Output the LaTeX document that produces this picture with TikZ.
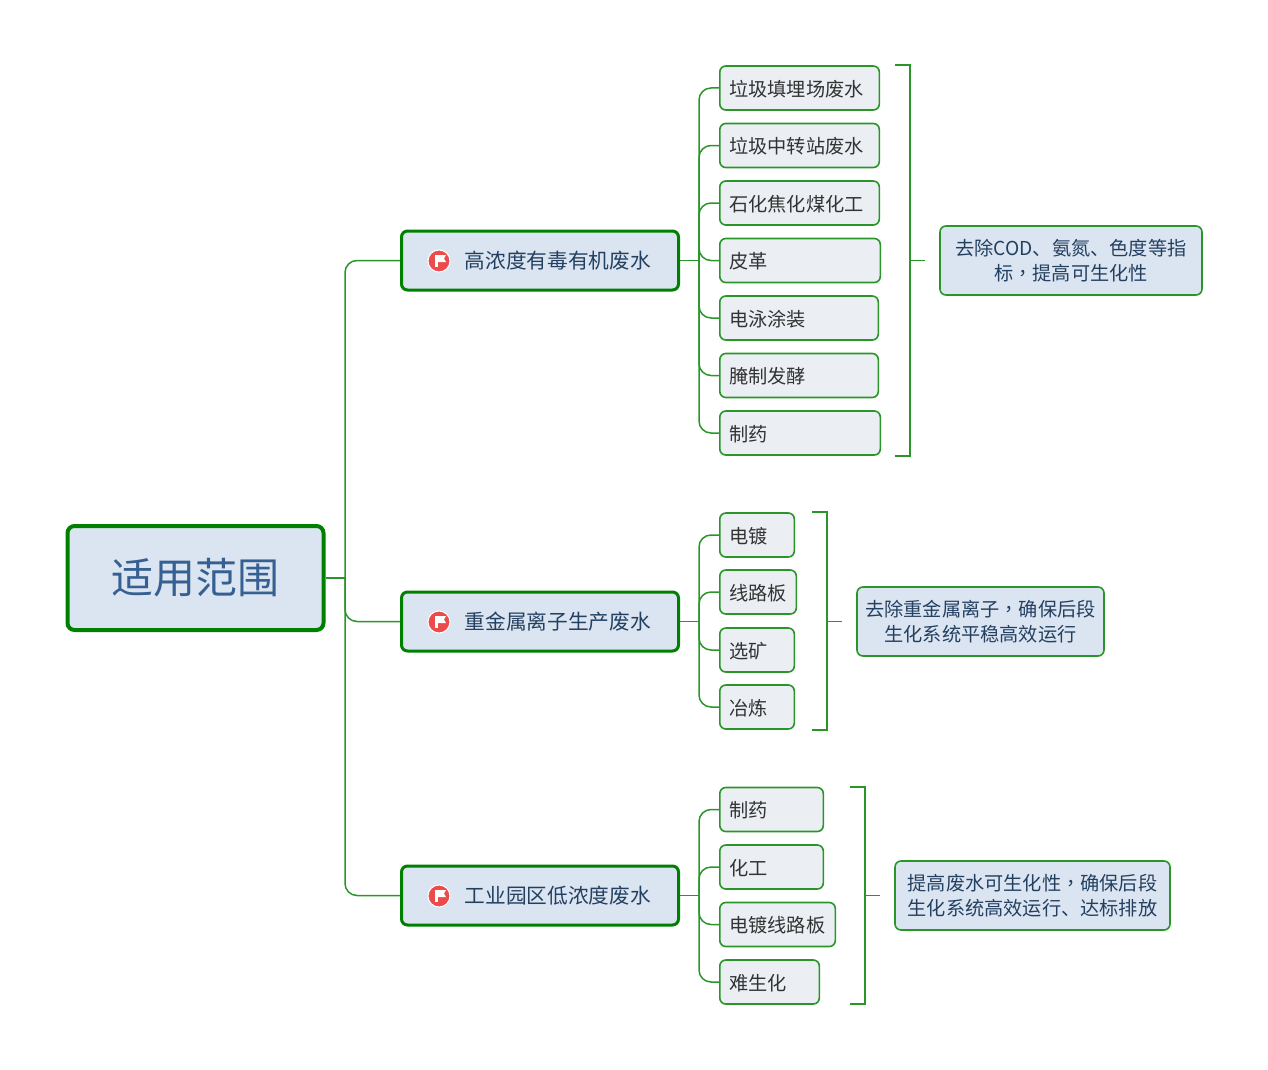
\documentclass[tikz,border=0pt]{standalone}
\usepackage{fontspec}
\setmainfont{Noto Sans CJK SC}
\newfontfamily\commafont{Noto Sans CJK TC}
\usepackage{xcolor}
\definecolor{linkgreen}{HTML}{2A962A}
\definecolor{mainfill}{HTML}{DBE5F1}
\definecolor{leaffill}{HTML}{EBEFF4}
\definecolor{roottext}{HTML}{376092}
\definecolor{maintext}{HTML}{244061}
\definecolor{leaftext}{HTML}{333333}
\definecolor{flagred}{HTML}{EC4B4B}
\newcommand{\midcomma}{{\commafont ，}}
\tikzset{
  link/.style={draw=linkgreen,line width=1.5pt},
  rootbox/.style={draw=green!50!black,line width=4pt,fill=mainfill,rounded corners=7pt,minimum width=256pt,minimum height=104pt,text=roottext,font=\fontsize{42}{48}\selectfont,inner sep=0pt},
  mainbox/.style={draw=green!50!black,line width=3pt,fill=mainfill,rounded corners=6pt,minimum width=277pt,minimum height=59pt,text=maintext,font=\fontsize{20.7}{25}\selectfont,inner sep=0pt,execute at begin node=\hspace*{35.5pt}},
  leafbox/.style={draw=linkgreen,line width=1.6pt,fill=leaffill,rounded corners=6pt,anchor=west,minimum width=#1,minimum height=44pt,text width=#1-19pt,text height=19pt,text depth=2.5pt,text=leaftext,font=\fontsize{19.2}{25}\selectfont,inner xsep=9.5pt,inner ysep=0pt,align=left},
  sumbox/.style={draw=linkgreen,line width=1.6pt,fill=mainfill,rounded corners=6pt,minimum height=69pt,text=maintext,font=\fontsize{19.2}{25}\selectfont,inner sep=0pt,align=center},
  flagdot/.style={circle,draw=white,line width=1pt,fill=flagred,minimum size=22pt,inner sep=0pt}
}
\begin{document}
\begin{tikzpicture}[x=1pt,y=-1pt]
\useasboundingbox (0,0) rectangle (1268,1070);

% root and main topics
\node[rootbox] (root) at (195.5,578) {适用范围};
\node[mainbox] (main1) at (540,260.5) {高浓度有毒有机废水};
\node[mainbox] (main2) at (540,621.5) {重金属离子生产废水};
\node[mainbox] (main3) at (540,895.5) {工业园区低浓度废水};

% flags
\foreach \flagname/\fy in {main1/261,main2/622,main3/896}{
  \node[flagdot] (\flagname flag) at (439,\fy) {};
  \fill[white] (435,\fy-6) rectangle (437.5,\fy+6);
  \fill[white] (437.5,\fy-6) -- (446,\fy-6) -- (444,\fy-2.5) -- (446,\fy+1) -- (437.5,\fy+1) -- cycle;
}

% first group
\node[leafbox=159.5pt] (a1) at (719,88) {垃圾填埋场废水};
\node[leafbox=159.5pt] (a2) at (719,145.5) {垃圾中转站废水};
\node[leafbox=159.5pt] (a3) at (719,203) {石化焦化煤化工};
\node[leafbox=160.5pt] (a4) at (719,260.5) {皮革};
\node[leafbox=158.5pt] (a5) at (719,318) {电泳涂装};
\node[leafbox=158.5pt] (a6) at (719,375.5) {腌制发酵};
\node[leafbox=160.5pt] (a7) at (719,433) {制药};

% second group
\node[leafbox=74.5pt] (b1) at (719,535) {电镀};
\node[leafbox=76.5pt] (b2) at (719,592) {线路板};
\node[leafbox=74.5pt] (b3) at (719,650) {选矿};
\node[leafbox=74.5pt] (b4) at (719,707) {冶炼};

% third group
\node[leafbox=103.5pt] (c1) at (719,809.5) {制药};
\node[leafbox=103.5pt] (c2) at (719,867) {化工};
\node[leafbox=115.5pt] (c3) at (719,924.5) {电镀线路板};
\node[leafbox=99.5pt] (c4) at (719,982) {难生化};

% summaries
\node[sumbox,minimum width=262pt] (sum1) at (1071,260.5) {去除COD、氨氮、色度等指\\标\midcomma 提高可生化性};
\node[sumbox,minimum width=247pt] (sum2) at (980.5,621.5) {去除重金属离子\midcomma 确保后段\\生化系统平稳高效运行};
\node[sumbox,minimum width=275pt] (sum3) at (1032.5,895.5) {提高废水可生化性\midcomma 确保后段\\生化系统高效运行、达标排放};

% trunk
\coordinate (trunk) at (345,578);
\draw[link] (root.east) -- (trunk);
\foreach \m in {main1,main2,main3}
  \draw[link,rounded corners=12pt] (trunk) |- (\m.west);

% hubs
\coordinate (hub1) at (699,260.5);
\coordinate (hub2) at (699,621.5);
\coordinate (hub3) at (699,895.5);
\draw[link] (main1.east) -- (hub1);
\draw[link] (main2.east) -- (hub2);
\draw[link] (main3.east) -- (hub3);
\foreach \l in {a1,a2,a3,a4,a5,a6,a7}
  \draw[link,rounded corners=12pt] (hub1) |- (\l.west);
\foreach \l in {b1,b2,b3,b4}
  \draw[link,rounded corners=12pt] (hub2) |- (\l.west);
\foreach \l in {c1,c2,c3,c4}
  \draw[link,rounded corners=12pt] (hub3) |- (\l.west);

% brackets
\coordinate (top1) at (895,65);
\coordinate (low1) at (895,456);
\coordinate (mid1) at (910,260.5);
\coordinate (top2) at (812,512);
\coordinate (low2) at (812,730);
\coordinate (mid2) at (827,621.5);
\coordinate (top3) at (850,787);
\coordinate (low3) at (850,1004);
\coordinate (mid3) at (865,895.5);
\foreach \i in {1,2,3}{
  \draw[link] (top\i) -| (mid\i) |- (low\i);
  \draw[link,shorten >=14pt] (mid\i) -- (sum\i.west);
}

\end{tikzpicture}
\end{document}
